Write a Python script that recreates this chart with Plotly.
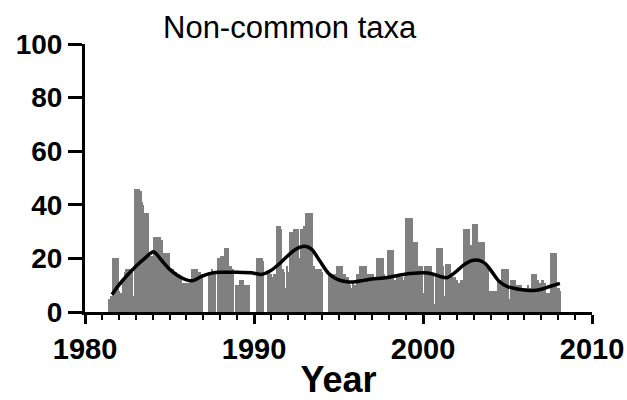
import plotly.graph_objects as go

# Monthly counts starting June 1981, ending February 2008
start_year = 1981
start_month = 6
monthly_values = [
    # 1981 (Jun-Dec)
    5, 6, 6, 20, 20, 20, 20,
    # 1982
    8, 7, 3, 12, 15, 16, 16, 16, 16, 16, 6, 46,
    # 1983
    46, 46, 46, 45, 41, 40, 37, 37, 37, 21, 21, 21,
    # 1984
    16, 28, 28, 28, 28, 28, 27, 22, 22, 22, 22, 22,
    # 1985
    13, 15, 16, 15, 15, 14, 14, 13, 12, 11, 9, 11,
    # 1986
    11, 11, 12, 11, 16, 16, 16, 16, 15, 15, 14, 13,
    # 1987
    0, 0, 0, 0, 15, 15, 16, 15, 15, 0, 20, 20,
    # 1988
    21, 21, 21, 24, 24, 24, 17, 17, 16, 16, 0, 10,
    # 1989
    10, 10, 12, 12, 12, 10, 10, 10, 10, 0, 0, 0,
    # 1990
    0, 0, 20, 20, 20, 20, 19, 0, 0, 0, 15, 14,
    # 1991
    14, 13, 14, 14, 32, 32, 32, 31, 16, 15, 9, 17,
    # 1992
    15, 30, 30, 30, 31, 31, 31, 31, 20, 31, 31, 32,
    # 1993
    32, 37, 37, 37, 37, 37, 17, 16, 16, 16, 16, 16,
    # 1994
    15, 0, 0, 0, 0, 14, 14, 14, 14, 14, 14, 17,
    # 1995
    17, 17, 17, 11, 14, 13, 13, 11, 10, 9, 11, 10,
    # 1996
    10, 14, 14, 17, 17, 17, 17, 17, 14, 14, 14, 14,
    # 1997
    14, 6, 13, 20, 20, 20, 20, 20, 14, 13, 9, 23,
    # 1998
    23, 23, 23, 7, 12, 13, 12, 13, 12, 13, 12, 13,
    # 1999
    35, 35, 35, 35, 35, 26, 26, 26, 17, 17, 17, 17,
    # 2000
    7, 17, 17, 17, 17, 17, 14, 14, 3, 14, 24, 24,
    # 2001
    24, 24, 17, 6, 18, 18, 18, 18, 13, 10, 13, 11,
    # 2002
    12, 11, 9, 12, 12, 31, 31, 31, 31, 25, 25, 33,
    # 2003
    33, 33, 33, 26, 26, 26, 26, 26, 18, 18, 17, 8,
    # 2004
    8, 8, 7, 8, 8, 12, 12, 12, 16, 16, 16, 16,
    # 2005
    16, 5, 12, 12, 12, 12, 10, 10, 10, 10, 4, 9,
    # 2006
    9, 9, 10, 9, 9, 14, 14, 14, 14, 12, 11, 11,
    # 2007
    12, 12, 11, 4, 7, 7, 7, 22, 22, 22, 22, 9,
    # 2008 (Jan-Feb)
    9, 8,
]

smooth_years = [1981.6, 1982.0, 1982.5, 1983.0, 1983.5, 1984.05, 1984.5, 1985.0,
                1985.5, 1986.0, 1986.4, 1986.9, 1987.5, 1988.0, 1989.0, 1990.0,
                1990.4, 1991.0, 1991.5, 1992.0, 1992.5, 1993.0, 1993.4, 1993.9,
                1994.4, 1994.9, 1995.5, 1996.0, 1996.5, 1997.0, 1997.5, 1998.0,
                1998.5, 1999.0, 1999.5, 2000.0, 2000.5, 2001.0, 2001.4, 2001.9,
                2002.4, 2002.9, 2003.3, 2003.7, 2004.1, 2004.5, 2005.0, 2005.5,
                2006.0, 2006.5, 2007.0, 2007.5, 2008.1]
smooth_values = [6.5, 10, 13.7, 17, 19.8, 22.5, 19.5, 16,
                 13.5, 12, 11.7, 13.3, 14.5, 14.8, 14.8, 14.5,
                 14, 15.5, 18, 21, 23.5, 24.5, 23.5, 19,
                 14.5, 12.3, 11.3, 11.3, 11.8, 12.3, 12.6, 13,
                 13.6, 14.2, 14.5, 14.6, 14.3, 13.3, 12.8, 14.8,
                 17.5, 19.2, 19.3, 18, 14.8, 11.5, 9.5, 8.7,
                 8.2, 8, 8.5, 9.5, 10.7]

title_text = "Non-common taxa"
x_label = "Year"
x_ticks = [1980, 1990, 2000, 2010]
y_ticks = [0, 20, 40, 60, 80, 100]

# month-centre dates of the bars
bar_x = [start_year + (start_month - 1 + i + 0.5) / 12.0 for i in range(len(monthly_values))]

FONT = "Liberation Sans, Arial, Helvetica, sans-serif"
BAR_GRAY = "#808080"

fig = go.Figure()
fig.add_trace(go.Bar(
    x=bar_x, y=monthly_values, width=1.25 / 12.0,
    marker=dict(color=BAR_GRAY, line=dict(width=0)),
    showlegend=False, hoverinfo="skip",
))
fig.add_trace(go.Scatter(
    x=smooth_years, y=smooth_values, mode="lines",
    line=dict(color="black", width=3.5, shape="spline", smoothing=0.8),
    showlegend=False, hoverinfo="skip",
))

fig.update_layout(
    width=627, height=400,
    margin=dict(l=85, r=35, t=44, b=88, autoexpand=False),
    paper_bgcolor="white", plot_bgcolor="white",
    bargap=0, barmode="overlay",
    font=dict(family=FONT, color="black"),
    annotations=[dict(
        text=title_text, xref="paper", yref="paper",
        x=0.404, y=1.0, xanchor="center", yanchor="bottom",
        yshift=-3, showarrow=False,
        font=dict(family=FONT, size=31, color="black"),
    )],
)
fig.update_xaxes(
    range=[1980, 2010], tickmode="array", tickvals=x_ticks,
    ticks="outside", ticklen=9, tickwidth=3, tickcolor="black",
    showline=True, linewidth=3, linecolor="black",
    showgrid=False, zeroline=False, automargin=False,
    tickfont=dict(family=FONT, size=29, color="black", weight="bold"),
    minor=dict(dtick=1, tick0=1980, ticks="outside", ticklen=5, tickwidth=2,
               tickcolor="black", showgrid=False),
    title=dict(text=x_label, standoff=12,
               font=dict(family=FONT, size=36, color="black", weight="bold")),
)
fig.update_yaxes(
    range=[0, 100], tickmode="array", tickvals=y_ticks,
    ticks="outside", ticklen=14, tickwidth=3, tickcolor="black",
    showline=True, linewidth=3, linecolor="black",
    showgrid=False, zeroline=False, automargin=False,
    tickfont=dict(family=FONT, size=28, color="black", weight="bold"),
)

fig.write_html("out.html")
